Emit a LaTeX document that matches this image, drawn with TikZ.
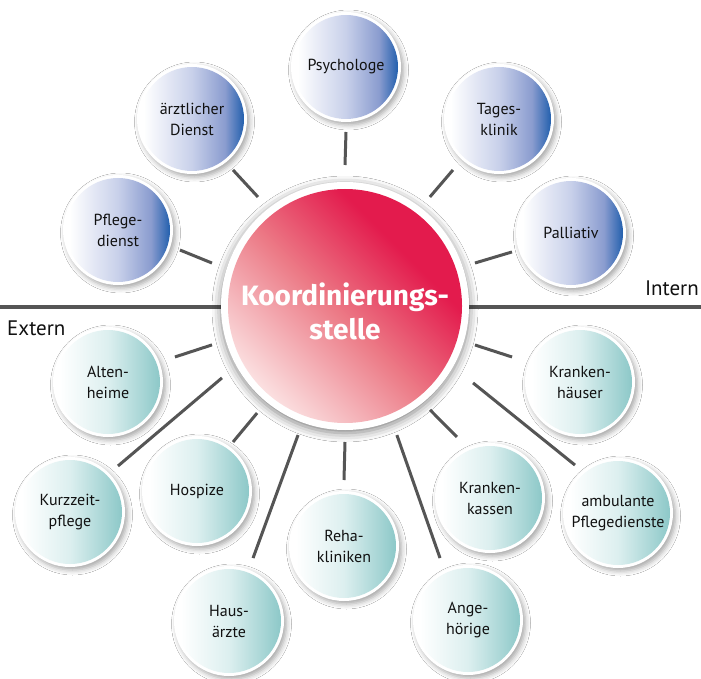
\documentclass[tikz,border=0pt]{standalone}
\usepackage{fontspec}
\setmainfont{PT Sans}
\newfontfamily\kfont{Fira Sans}
\usetikzlibrary{calc,shadows.blur}
\definecolor{kd}{HTML}{E31B4D}
\definecolor{km}{HTML}{EC7A86}
\definecolor{kl}{HTML}{FCE6E6}
\definecolor{b1}{HTML}{C8D0EA}
\definecolor{b2}{HTML}{8A9CCF}
\definecolor{b3}{HTML}{1256A8}
\definecolor{t1}{HTML}{DCEFEF}
\definecolor{t2}{HTML}{88C6C6}
\definecolor{linegray}{HTML}{555555}
\definecolor{txt}{HTML}{111111}
\pgfdeclareverticalshading{kshade}{100bp}{color(0bp)=(kl); color(25bp)=(kl); color(48bp)=(km); color(66bp)=(kd); color(100bp)=(kd)}
\pgfdeclarehorizontalshading{bshade}{100bp}{color(0bp)=(white); color(28bp)=(white); color(50bp)=(b1); color(65bp)=(b2); color(75bp)=(b3); color(100bp)=(b3)}
\pgfdeclarehorizontalshading{tshade}{100bp}{color(0bp)=(white); color(28bp)=(white); color(50bp)=(t1); color(75bp)=(t2); color(100bp)=(t2)}
\tikzset{
  sat/.style={circle, minimum size=110pt, inner sep=1pt, outer sep=0pt, fill=white, align=center,
    font=\fontsize{16}{21}\selectfont, text=txt,
    blur shadow={shadow xshift=2.5pt, shadow yshift=-3pt, shadow blur radius=5pt, shadow opacity=35}},
  bluesat/.style={sat, path picture={\shade[shading=bshade] (path picture bounding box.center) circle (52pt);}},
  tealsat/.style={sat, path picture={\shade[shading=tshade] (path picture bounding box.center) circle (52pt);}},
  conn/.style={draw=linegray, line width=3pt},
  divider/.style={draw=linegray, line width=4pt},
  sidelabel/.style={font=\fontsize{21}{25}\selectfont, text=txt, inner sep=0pt}
}
\begin{document}
\begin{tikzpicture}[x=1pt,y=1pt]
\useasboundingbox[fill=white] (0,0) rectangle (701,-679);
% divider line
\coordinate (dl) at (0,-307);
\coordinate (dr) at (701,-307);
\draw[divider] (dl) -- (dr);
% centre
\node[circle, minimum size=248pt, fill=white, outer sep=0pt,
  blur shadow={shadow xshift=0pt, shadow yshift=-3pt, shadow blur radius=9pt, shadow opacity=50},
  path picture={\shade[shading=kshade, shading angle=-45] (path picture bounding box.center) circle (117pt);}] (k) at (345,-306) {};
\node[font=\kfont\fontsize{28}{34}\selectfont\bfseries, text=white, align=center] (kt) at (345,-311) {Koordinierungs-\\stelle};
% internal (blue)
\node[bluesat] (psy) at (346,-67) {Psychologe};
\node[bluesat] (arzt) at (192,-119) {ärztlicher\\Dienst};
\node[bluesat] (tages) at (499,-119) {Tages-\\klinik};
\node[bluesat] (pflege) at (118,-230) {Pflege-\\dienst};
\node[bluesat] (pall) at (571,-233) {Palliativ};
% external (teal)
\node[tealsat] (alten) at (108,-382) {Alten-\\heime};
\node[tealsat] (kranken) at (580,-382) {Kranken-\\häuser};
\node[tealsat] (ambul) at (618,-513) {ambulante\\Pflegedienste};
\node[tealsat] (kkassen) at (490,-498) {Kranken-\\kassen};
\node[tealsat] (angeh) at (468,-620) {Ange-\\hörige};
\node[tealsat] (reha) at (344,-546) {Reha-\\kliniken};
\node[tealsat] (haus) at (229,-621) {Haus-\\ärzte};
\node[tealsat] (hosp) at (197,-491) {Hospize};
\node[tealsat] (kurz) at (70,-512) {Kurzzeit-\\pflege};
% connectors
\draw[conn] ($(k)+(90:141)$) -- ($(psy)+(-90:65)$);
\draw[conn] ($(k)+(128.6:139.5)$) -- ($(arzt)+(-51.2:65.4)$);
\draw[conn] ($(k)+(52.1:138.2)$) -- ($(tages)+(227.9:68.7)$);
\draw[conn] ($(k)+(162.1:139.8)$) -- ($(pflege)+(-17.9:65.1)$);
\draw[conn] ($(k)+(18.3:136.9)$) -- ($(pall)+(197.8:62)$);
\draw[conn] ($(k)+(196.3:138.6)$) -- ($(alten)+(20.5:71.5)$);
\draw[conn] ($(k)+(210.3:142.5)$) -- ($(kurz)+(43.8:66.5)$);
\draw[conn] ($(k)+(230.6:138.5)$) -- ($(hosp)+(53.7:60.8)$);
\draw[conn] ($(k)+(250:137.3)$) -- ($(haus)+(69.1:67.4)$);
\draw[conn] ($(k)+(270:136)$) -- ($(reha)+(90:66)$);
\draw[conn] ($(k)+(291.9:139.1)$) -- ($(angeh)+(114.3:68)$);
\draw[conn] ($(k)+(309.3:134.3)$) -- ($(kkassen)+(118.4:69.4)$);
\draw[conn] ($(k)+(329:149.4)$) -- ($(ambul)+(131.9:64.4)$);
\draw[conn] ($(k)+(343.3:135.7)$) -- ($(kranken)+(159.8:72.4)$);
% side labels
\node[sidelabel, anchor=base west] (ext) at (7,-335) {Extern};
\node[sidelabel, anchor=base east] (int) at (699,-295) {Intern};
\end{tikzpicture}
\end{document}
